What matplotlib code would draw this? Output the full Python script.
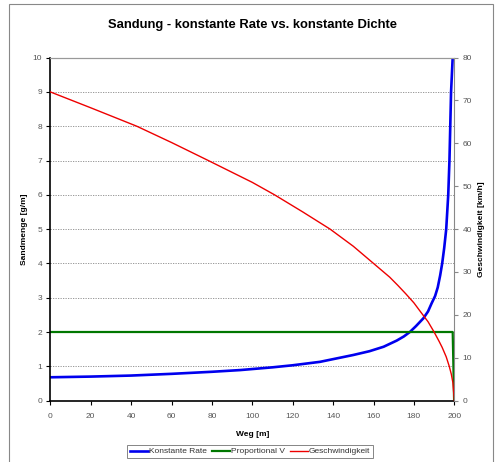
import matplotlib
matplotlib.use('Agg')
from matplotlib import pyplot as plt
from matplotlib.patches import Rectangle

plt.rcParams['font.family'] = ['Liberation Sans', 'DejaVu Sans']

# konstante Rate (g/m), left axis
rate_x = [0, 20, 40, 60, 80, 94, 110, 120, 133.5, 150, 158, 165, 171.5, 175,
          178, 181, 184.7, 187, 188.8, 190.5, 191.8, 193, 194, 195, 196, 197,
          197.6, 198, 198.4, 199.2]
rate_y = [0.68, 0.70, 0.73, 0.78, 0.84, 0.89, 0.97, 1.03, 1.13, 1.33, 1.44,
          1.57, 1.75, 1.87, 2.0, 2.17, 2.4, 2.6, 2.84, 3.05, 3.3, 3.65, 4.0,
          4.45, 5.0, 6.0, 7.0, 8.0, 9.0, 10.0]

# Proportional V (g/m), left axis
prop_x = [0, 199.2, 199.9]
prop_y = [2.0, 2.0, 0.0]

# Geschwindigkeit (km/h), right axis
speed_x = [0, 20, 42.8, 60, 78.2, 100, 111, 125, 138.5, 150, 160, 168, 172,
           176, 180, 183, 187, 190, 192.5, 194, 196, 197.5, 198.5, 199.3, 200]
speed_y = [72, 68.3, 64, 60.2, 56, 50.9, 48, 44, 40, 36, 32, 28.8, 26.9,
           24.9, 22.8, 20.9, 18.4, 16, 13.8, 12.4, 10.2, 8, 6.2, 4.2, 0]

x_ticks = list(range(0, 201, 20))
left_ticks = list(range(0, 11))
right_ticks = list(range(0, 81, 10))

tick_color = '#555555'
fs = 6

fig = plt.figure(figsize=(5.0, 4.62), dpi=100)
fig.patches.append(Rectangle((9 / 500, -0.1), 484 / 500, 1.1 - 4 / 462,
                             transform=fig.transFigure, fill=False,
                             edgecolor='#888888', linewidth=0.8))

ax = fig.add_axes([0.1006, 0.1329, 0.808, 0.7424])
ax2 = ax.twinx()

l1, = ax.plot(rate_x, rate_y, color='#0000ee', linewidth=1.9, label='Konstante Rate')
l2, = ax.plot(prop_x, prop_y, color='#007700', linewidth=1.6, label='Proportional V')
l3, = ax2.plot(speed_x, speed_y, color='#ee0000', linewidth=1.0, label='Geschwindigkeit')

ax.set_xlim(0, 200)
ax.set_ylim(0, 10)
ax2.set_ylim(0, 80)
ax.set_xticks(x_ticks)
ax.set_yticks(left_ticks)
ax2.set_yticks(right_ticks)

for y in range(1, 10):
    ax.axhline(y, color='#888888', linestyle=(0, (1.5, 1.5)), linewidth=0.6, zorder=0)

ax.spines['left'].set_color('black')
ax.spines['bottom'].set_color('black')
ax.spines['left'].set_linewidth(1.2)
ax.spines['bottom'].set_linewidth(1.2)
ax.spines['top'].set_color('#999999')
ax.spines['right'].set_visible(False)
ax2.spines['left'].set_visible(False)
ax2.spines['bottom'].set_visible(False)
ax2.spines['top'].set_color('#999999')
ax2.spines['right'].set_color('#888888')

ax.tick_params(axis='both', labelsize=fs, labelcolor=tick_color, length=3, width=0.8, pad=3)
ax.tick_params(axis='x', pad=6)
ax2.tick_params(axis='y', labelsize=fs, labelcolor=tick_color, colors='#888888', length=3, width=0.8, pad=3)
for lab in ax2.get_yticklabels():
    lab.set_color(tick_color)

ax.set_xlabel('Weg [m]', fontsize=fs, fontweight='bold', labelpad=8)
ax.set_ylabel('Sandmenge [g/m]', fontsize=fs, fontweight='bold', labelpad=3)
ax2.set_ylabel('Geschwindigkeit [km/h]', fontsize=fs, fontweight='bold', labelpad=4)

fig.text(0.504, 0.946, 'Sandung - konstante Rate vs. konstante Dichte',
         ha='center', va='center', fontsize=9.4, fontweight='bold')

leg = fig.legend(handles=[l1, l2, l3], loc='center', bbox_to_anchor=(0.5, 0.0227),
                 ncol=3, fontsize=fs, frameon=True, fancybox=False,
                 handlelength=2.2, handletextpad=0.1, columnspacing=0.6,
                 borderpad=0.3, borderaxespad=0)
leg.get_frame().set_edgecolor('#666666')
leg.get_frame().set_linewidth(0.7)
for t in leg.get_texts():
    t.set_color('#333333')

fig.savefig('out.png', dpi=100)
